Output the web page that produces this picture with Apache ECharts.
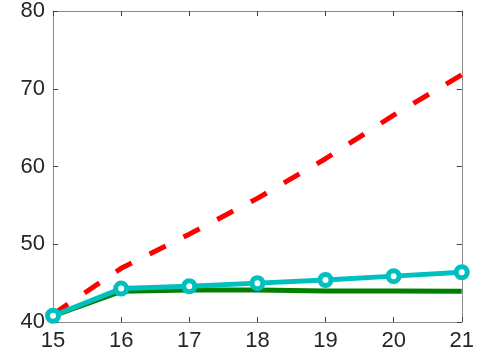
<!DOCTYPE html>
<html>
<head>
<meta charset="utf-8">
<script src="https://cdn.jsdelivr.net/npm/echarts@6/dist/echarts.min.js"></script>
<style>html,body{margin:0;padding:0;background:#fff;}#c{width:477px;height:353px;}</style>
</head>
<body>
<div id="c"></div>
<script>
const xValues = [15, 16, 17, 18, 19, 20, 21];
const redSeries = [41.0, 46.9, 51.3, 55.9, 61.0, 66.6, 71.8];
const cyanSeries = [40.8, 44.3, 44.6, 45.0, 45.4, 45.9, 46.4];
const greenSeries = [40.8, 43.95, 44.1, 44.1, 44.0, 44.0, 43.95];

const pairs = ys => xValues.map((x, i) => [x, ys[i]]);
const axisColor = '#8c8c8c';
const labelStyle = { color: '#262626', fontSize: 22, fontFamily: 'Liberation Sans, Arial, sans-serif' };

const chart = echarts.init(document.getElementById('c'), null, { renderer: 'canvas' });
chart.setOption({
  animation: false,
  grid: { left: 53, right: 15, top: 8, bottom: 31, containLabel: false },
  xAxis: [
    { type: 'value', min: 15, max: 21, interval: 1, position: 'bottom',
      axisLine: { show: true, onZero: false, lineStyle: { color: axisColor, width: 1 } },
      axisTick: { show: true, inside: true, length: 5, lineStyle: { color: '#404040' } },
      axisLabel: Object.assign({ margin: 8 }, labelStyle),
      splitLine: { show: false } },
    { type: 'value', min: 15, max: 21, interval: 1, position: 'top',
      axisLine: { show: true, onZero: false, lineStyle: { color: axisColor, width: 1 } },
      axisTick: { show: true, inside: true, length: 5, lineStyle: { color: '#404040' } },
      axisLabel: { show: false }, splitLine: { show: false } }
  ],
  yAxis: [
    { type: 'value', min: 40, max: 80, interval: 10, position: 'left',
      axisLine: { show: true, onZero: false, lineStyle: { color: axisColor, width: 1 } },
      axisTick: { show: true, inside: true, length: 5, lineStyle: { color: '#404040' } },
      axisLabel: Object.assign({ margin: 8 }, labelStyle),
      splitLine: { show: false } },
    { type: 'value', min: 40, max: 80, interval: 10, position: 'right',
      axisLine: { show: true, onZero: false, lineStyle: { color: axisColor, width: 1 } },
      axisTick: { show: true, inside: true, length: 5, lineStyle: { color: '#404040' } },
      axisLabel: { show: false }, splitLine: { show: false } }
  ],
  series: [
    { type: 'line', data: pairs(greenSeries), showSymbol: false, symbol: 'none',
      lineStyle: { color: '#008000', width: 5 }, z: 2 },
    { type: 'line', data: pairs(redSeries), showSymbol: false, symbol: 'none',
      lineStyle: { color: '#ff0000', width: 5, type: [18, 20], cap: 'butt' }, z: 3 },
    { type: 'line', data: pairs(cyanSeries), symbol: 'circle', symbolSize: 11,
      itemStyle: { color: '#ffffff', borderColor: '#00bfbf', borderWidth: 5 },
      lineStyle: { color: '#00bfbf', width: 5 }, z: 4 }
  ]
});
</script>
</body>
</html>
